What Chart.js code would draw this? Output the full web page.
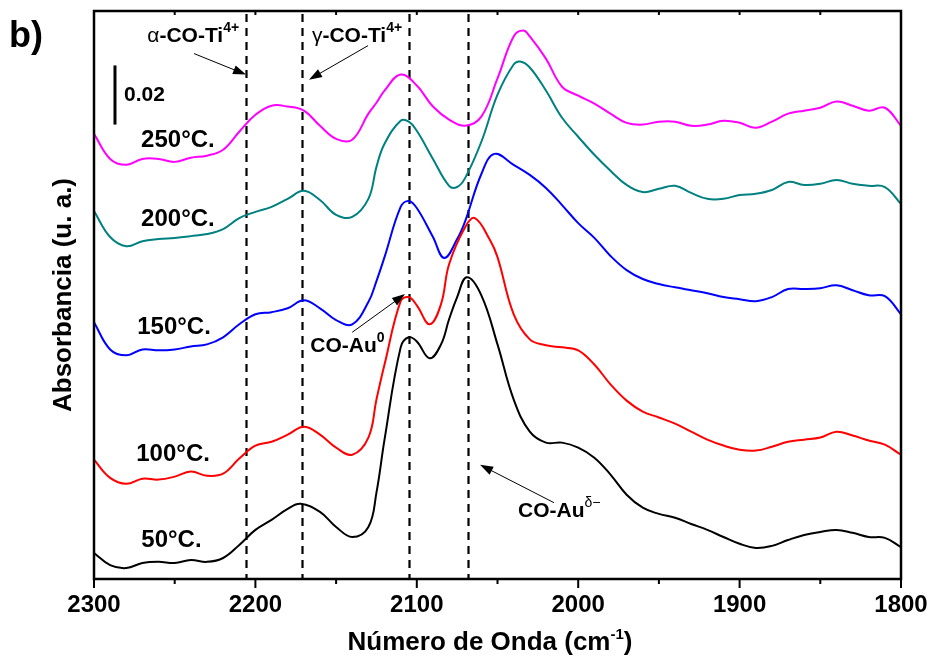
<!DOCTYPE html>
<html>
<head>
<meta charset="utf-8">
<script src="https://cdn.jsdelivr.net/npm/chart.js@4.4.1/dist/chart.umd.min.js"></script>
<style>
  body { margin: 0; background: #fff; }
  canvas { display: block; }
</style>
</head>
<body>
<canvas id="spectra" width="935" height="663"></canvas>
<script>
const FONT = "'Liberation Sans', Arial, Helvetica, sans-serif"

// FTIR spectra of adsorbed CO, wavenumber (cm-1) and absorbance for each temperature
const wn50 = [2300,2290,2280,2270,2260,2250,2240,2230,2220,2210,2200,2190,2180,2172,2160,2150,2140,2130,2125,2120,2110,2105,2100,2092,2085,2080,2075,2069,2060,2050,2040,2030,2020,2010,2000,1990,1980,1970,1960,1950,1940,1930,1920,1910,1900,1890,1880,1870,1860,1850,1840,1830,1820,1810,1800]
const abs50 = [0.0088,0.0047,0.0037,0.0054,0.0058,0.0054,0.0064,0.0058,0.0071,0.0115,0.0166,0.0200,0.0237,0.0254,0.0227,0.0176,0.0142,0.0176,0.0292,0.0471,0.0783,0.0817,0.0803,0.0746,0.0793,0.0878,0.0953,0.1020,0.0959,0.0793,0.0607,0.0498,0.0461,0.0461,0.0444,0.0410,0.0353,0.0285,0.0241,0.0220,0.0207,0.0186,0.0166,0.0142,0.0119,0.0105,0.0112,0.0132,0.0149,0.0159,0.0166,0.0156,0.0142,0.0139,0.0108]

const wn100 = [2300,2290,2280,2270,2260,2250,2240,2230,2220,2210,2200,2190,2180,2170,2160,2150,2140,2130,2125,2120,2110,2105,2100,2092,2085,2080,2070,2064,2055,2050,2040,2030,2020,2010,2000,1990,1980,1970,1960,1950,1940,1930,1920,1910,1900,1890,1880,1870,1860,1850,1840,1830,1820,1810,1800]
const abs100 = [0.0403,0.0342,0.0322,0.0339,0.0336,0.0346,0.0363,0.0349,0.0356,0.0407,0.0451,0.0464,0.0488,0.0515,0.0488,0.0444,0.0420,0.0478,0.0607,0.0725,0.0939,0.0953,0.0925,0.0861,0.0929,0.1064,0.1190,0.1220,0.1149,0.1088,0.0895,0.0810,0.0790,0.0783,0.0773,0.0725,0.0658,0.0603,0.0566,0.0546,0.0525,0.0498,0.0471,0.0451,0.0437,0.0434,0.0447,0.0464,0.0471,0.0478,0.0498,0.0485,0.0468,0.0454,0.0420]

const wn150 = [2300,2290,2280,2270,2260,2250,2240,2230,2220,2210,2200,2190,2180,2170,2160,2150,2140,2130,2125,2120,2110,2105,2100,2090,2083,2075,2070,2060,2052,2040,2030,2020,2010,2000,1990,1980,1970,1960,1950,1940,1930,1920,1910,1900,1890,1880,1870,1860,1850,1840,1830,1820,1810,1800]
const abs150 = [0.0868,0.0776,0.0756,0.0776,0.0773,0.0776,0.0786,0.0793,0.0817,0.0861,0.0895,0.0902,0.0915,0.0942,0.0915,0.0875,0.0861,0.0936,0.1007,0.1088,0.1258,0.1278,0.1254,0.1156,0.1085,0.1149,0.1210,0.1369,0.1437,0.1400,0.1366,0.1322,0.1264,0.1203,0.1153,0.1092,0.1044,0.1014,0.0997,0.0986,0.0976,0.0966,0.0953,0.0946,0.0939,0.0953,0.0980,0.0980,0.0983,0.0993,0.0976,0.0959,0.0956,0.0895]

const wn200 = [2300,2290,2280,2270,2260,2250,2240,2230,2220,2210,2200,2190,2180,2170,2160,2150,2140,2130,2125,2120,2110,2105,2100,2090,2080,2075,2070,2060,2050,2040,2036,2030,2020,2010,2000,1990,1980,1970,1960,1950,1940,1930,1920,1910,1900,1890,1880,1870,1860,1850,1840,1830,1820,1810,1800]
const abs200 = [0.1244,0.1156,0.1125,0.1142,0.1149,0.1153,0.1159,0.1166,0.1183,0.1220,0.1241,0.1258,0.1285,0.1312,0.1281,0.1231,0.1224,0.1285,0.1393,0.1471,0.1549,0.1546,0.1515,0.1420,0.1329,0.1325,0.1356,0.1478,0.1637,0.1739,0.1749,0.1729,0.1651,0.1559,0.1495,0.1434,0.1380,0.1332,0.1308,0.1319,0.1329,0.1305,0.1285,0.1285,0.1298,0.1302,0.1315,0.1342,0.1332,0.1336,0.1349,0.1336,0.1329,0.1325,0.1268]

const wn250 = [2300,2290,2280,2270,2260,2250,2240,2230,2220,2210,2200,2190,2180,2170,2160,2150,2140,2130,2125,2120,2110,2100,2090,2080,2070,2060,2050,2040,2034,2030,2020,2010,2000,1990,1980,1970,1960,1950,1940,1930,1920,1910,1900,1890,1880,1870,1860,1850,1840,1830,1820,1810,1800]
const abs250 = [0.1505,0.1420,0.1400,0.1420,0.1420,0.1410,0.1424,0.1431,0.1451,0.1512,0.1569,0.1600,0.1597,0.1583,0.1532,0.1488,0.1485,0.1573,0.1610,0.1651,0.1705,0.1668,0.1597,0.1553,0.1532,0.1563,0.1692,0.1834,0.1854,0.1834,0.1759,0.1664,0.1634,0.1607,0.1573,0.1542,0.1536,0.1546,0.1546,0.1532,0.1536,0.1549,0.1542,0.1525,0.1546,0.1573,0.1583,0.1593,0.1614,0.1600,0.1583,0.1593,0.1532]

// band positions marked with dashed lines
const bandPositions = [2206, 2171, 2105, 2068]
const xTicks = [2300, 2200, 2100, 2000, 1900, 1800]

const series = [
    {label: '50°C.',  color: '#000000', wn: wn50,  abs: abs50,  tag: [2252, 0.0129]},
    {label: '100°C.', color: '#ff0000', wn: wn100, abs: abs100, tag: [2251, 0.0420]},
    {label: '150°C.', color: '#0000ff', wn: wn150, abs: abs150, tag: [2250.4, 0.0851]},
    {label: '200°C.', color: '#008080', wn: wn200, abs: abs200, tag: [2248, 0.1217]},
    {label: '250°C.', color: '#ff00ff', wn: wn250, abs: abs250, tag: [2248, 0.1481]}
]

// band assignments: text start, arrow tail and arrow tip (wavenumber, absorbance)
const assignments = [
    {parts: [['α', 21, 'normal', 0], ['-CO-Ti', 21, 'bold', 0], ['4+', 14, 'bold', 10]],
     at: [2267, 0.1814], from: [2238, 0.1776], to: [2205.8, 0.1705]},
    {parts: [['γ', 21, 'normal', 0], ['-CO-Ti', 21, 'bold', 0], ['4+', 14, 'bold', 10]],
     at: [2165, 0.1814], from: [2130.2, 0.1803], to: [2166.8, 0.1688]},
    {parts: [['CO-Au', 21, 'bold', 0], ['0', 14, 'bold', 10]],
     at: [2166, 0.0766], from: [2140, 0.0834], to: [2107.3, 0.0963]},
    {parts: [['CO-Au', 21, 'bold', 0], ['δ−', 14, 'normal', 10]],
     at: [2037.3, 0.0210], from: [2015, 0.0258], to: [2060.8, 0.0386]}
]

const scaleBar = {wn: 2287, base: 0.1536, size: 0.02}

function drawRich(ctx, x, y, parts) {
    ctx.textAlign = 'left'
    ctx.textBaseline = 'alphabetic'
    parts.forEach(p => {
        ctx.font = p[2] + ' ' + p[1] + 'px ' + FONT
        ctx.fillText(p[0], x, y - p[3])
        x += ctx.measureText(p[0]).width
    })
}

function richWidth(ctx, parts) {
    let w = 0
    parts.forEach(p => {
        ctx.font = p[2] + ' ' + p[1] + 'px ' + FONT
        w += ctx.measureText(p[0]).width
    })
    return w
}

function arrow(ctx, x1, y1, x2, y2) {
    let ang = Math.atan2(y2 - y1, x2 - x1)
    let len = 13, half = 4.5
    ctx.lineWidth = 1
    ctx.beginPath()
    ctx.moveTo(x1, y1)
    ctx.lineTo(x2 - Math.cos(ang) * len * 0.8, y2 - Math.sin(ang) * len * 0.8)
    ctx.stroke()
    ctx.beginPath()
    ctx.moveTo(x2, y2)
    ctx.lineTo(x2 - Math.cos(ang) * len - Math.sin(ang) * half, y2 - Math.sin(ang) * len + Math.cos(ang) * half)
    ctx.lineTo(x2 - Math.cos(ang) * len + Math.sin(ang) * half, y2 - Math.sin(ang) * len - Math.cos(ang) * half)
    ctx.closePath()
    ctx.fill()
}

const bandLines = {
    id: 'bandLines',
    beforeDatasetsDraw(chart) {
        let ctx = chart.ctx, area = chart.chartArea, x = chart.scales.x
        ctx.save()
        ctx.strokeStyle = '#000'
        ctx.lineWidth = 2.2
        ctx.setLineDash([8, 6])
        bandPositions.forEach(b => {
            let px = Math.round(x.getPixelForValue(b)) + 0.5
            ctx.beginPath()
            ctx.moveTo(px, area.top + 3)
            ctx.lineTo(px, area.bottom)
            ctx.stroke()
        })
        ctx.restore()
    }
}

const decorations = {
    id: 'decorations',
    afterDatasetsDraw(chart) {
        let ctx = chart.ctx, area = chart.chartArea
        let x = chart.scales.x, y = chart.scales.y
        ctx.save()
        ctx.strokeStyle = '#000'
        ctx.fillStyle = '#000'

        // frame
        ctx.lineWidth = 2.5
        ctx.strokeRect(area.left, area.top, area.right - area.left, area.bottom - area.top)

        // ticks: outward at the bottom, inward at the top, minor every 50
        ctx.lineWidth = 2
        for (let v = 1800; v <= 2300; v += 50) {
            let px = x.getPixelForValue(v)
            let major = v % 100 == 0
            ctx.beginPath()
            ctx.moveTo(px, area.bottom)
            ctx.lineTo(px, area.bottom + (major ? 9 : 5))
            ctx.moveTo(px, area.top)
            ctx.lineTo(px, area.top + 4)
            ctx.stroke()
        }

        // scale bar
        ctx.lineWidth = 3
        let sx = x.getPixelForValue(scaleBar.wn)
        ctx.beginPath()
        ctx.moveTo(sx, y.getPixelForValue(scaleBar.base))
        ctx.lineTo(sx, y.getPixelForValue(scaleBar.base + scaleBar.size))
        ctx.stroke()
        ctx.font = 'bold 21px ' + FONT
        ctx.textAlign = 'left'
        ctx.textBaseline = 'middle'
        ctx.fillText(String(scaleBar.size), sx + 9, y.getPixelForValue(scaleBar.base + scaleBar.size / 2))

        // temperature tags
        ctx.font = 'bold 24px ' + FONT
        ctx.textAlign = 'center'
        series.forEach(s => {
            ctx.fillText(s.label, x.getPixelForValue(s.tag[0]), y.getPixelForValue(s.tag[1]))
        })

        // band assignments with arrows
        assignments.forEach(a => {
            drawRich(ctx, x.getPixelForValue(a.at[0]), y.getPixelForValue(a.at[1]), a.parts)
            arrow(ctx, x.getPixelForValue(a.from[0]), y.getPixelForValue(a.from[1]),
                x.getPixelForValue(a.to[0]), y.getPixelForValue(a.to[1]))
        })

        // x axis title with superscript
        let title = [['Número de Onda (cm', 26, 'bold', 0], ['-1', 15, 'bold', 11], [')', 26, 'bold', 0]]
        let tw = richWidth(ctx, title)
        drawRich(ctx, 490 - tw / 2, 650, title)

        // panel letter
        drawRich(ctx, 9, 47, [['b)', 36, 'bold', 0]])
        ctx.restore()
    }
}

new Chart(document.getElementById('spectra').getContext('2d'), {
    type: 'line',
    data: {
        datasets: series.map(s => ({
            label: s.label,
            data: s.wn.map((w, i) => ({x: w, y: s.abs[i]})),
            borderColor: s.color,
            backgroundColor: s.color,
            borderWidth: 2,
            pointRadius: 0,
            fill: false,
            tension: 0.4
        }))
    },
    options: {
        responsive: false,
        animation: false,
        layout: {padding: {top: 11, right: 34, left: 0, bottom: 0}},
        plugins: {legend: {display: false}, tooltip: {enabled: false}},
        scales: {
            x: {
                type: 'linear',
                reverse: true,
                min: 1800,
                max: 2300,
                afterFit: s => { s.height = 84 },
                afterBuildTicks: s => { s.ticks = xTicks.map(v => ({value: v})) },
                // tick marks are drawn by the decorations plugin; tickLength only offsets the labels
                grid: {display: false, drawTicks: true, tickLength: 9},
                border: {display: false},
                ticks: {
                    color: '#000',
                    padding: 3,
                    font: {family: FONT, size: 24, weight: 'bold'},
                    callback: v => String(v)
                }
            },
            y: {
                min: 0,
                max: 0.192,
                afterFit: s => { s.width = 94 },
                grid: {display: false, drawTicks: false},
                border: {display: false},
                ticks: {display: false},
                title: {
                    display: true,
                    text: 'Absorbancia (u. a.)',
                    color: '#000',
                    font: {family: FONT, size: 26, weight: 'bold'},
                    padding: {top: 48, bottom: 0}
                }
            }
        }
    },
    plugins: [bandLines, decorations]
})
</script>
</body>
</html>
